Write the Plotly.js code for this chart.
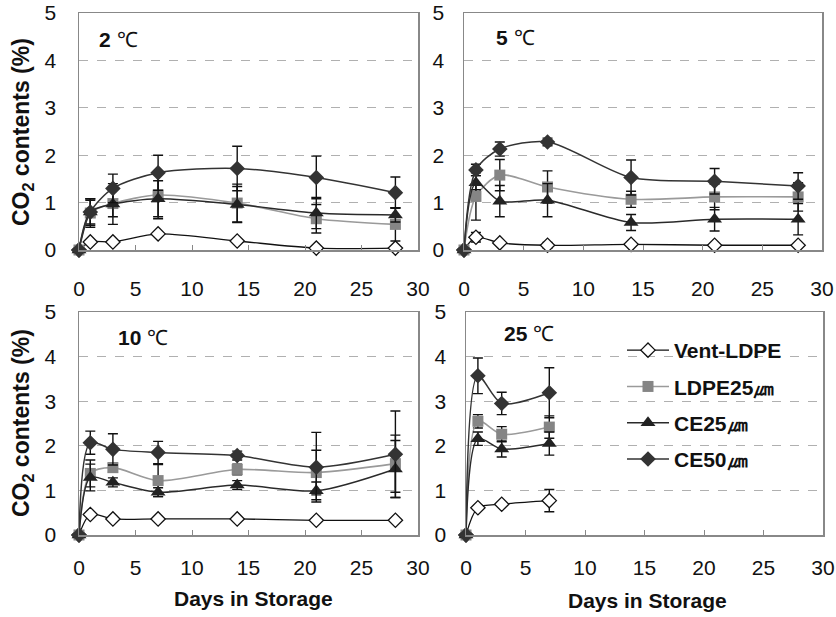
<!DOCTYPE html>
<html><head><meta charset="utf-8">
<script src="https://cdn.plot.ly/plotly-3.0.1.min.js"></script>
<style>html,body{margin:0;padding:0;background:#fff}#c{width:836px;height:617px}</style>
</head><body><div id="c"></div>
<script>
const days = [0, 1, 3, 7, 14, 21, 28];
const days25 = [0, 1, 3, 7];
const seriesNames = ["Vent-LDPE", "LDPE25㎛", "CE25㎛", "CE50㎛"];
const panelLabels = ["2", "5", "10", "25"];
const xTicks = [0, 5, 10, 15, 20, 25, 30];
const yTicks = [0, 1, 2, 3, 4, 5];

// 2 ℃
const vent2 = [0, 0.17, 0.17, 0.34, 0.19, 0.04, 0.04];
const ldpe2 = [0, 0.78, 0.98, 1.16, 0.99, 0.66, 0.54];
const ce25_2 = [0, 0.80, 0.97, 1.08, 0.96, 0.78, 0.74];
const ce50_2 = [0, 0.80, 1.30, 1.63, 1.72, 1.53, 1.21];
const ventErr2 = [0, 0.02, 0.02, 0.03, 0.02, 0.02, 0.02];
const ldpeErr2 = [0, 0.30, 0.28, 0.50, 0.40, 0.30, 0.35];
const ce25Err2 = [0, 0.25, 0.43, 0.38, 0.38, 0.33, 0.15];
const ce50Err2 = [0, 0.28, 0.30, 0.37, 0.47, 0.45, 0.33];

// 5 ℃
const vent5 = [0, 0.27, 0.15, 0.10, 0.12, 0.10, 0.10];
const ldpe5 = [0, 1.13, 1.58, 1.33, 1.07, 1.12, 1.12];
const ce25_5 = [0, 1.42, 1.03, 1.05, 0.58, 0.65, 0.65];
const ce50_5 = [0, 1.69, 2.13, 2.28, 1.53, 1.45, 1.35];
const ventErr5 = [0, 0.10, 0.03, 0.06, 0.03, 0.02, 0.02];
const ldpeErr5 = [0, 0.50, 0.33, 0.34, 0.17, 0.27, 0.30];
const ce25Err5 = [0, 0.15, 0.33, 0.35, 0.17, 0.25, 0.33];
const ce50Err5 = [0, 0.12, 0.15, 0.08, 0.37, 0.27, 0.28];

// 10 ℃
const vent10 = [0, 0.46, 0.36, 0.36, 0.36, 0.33, 0.33];
const ldpe10 = [0, 1.38, 1.51, 1.22, 1.47, 1.40, 1.60];
const ce25_10 = [0, 1.29, 1.18, 0.96, 1.12, 0.99, 1.48];
const ce50_10 = [0, 2.07, 1.92, 1.85, 1.78, 1.52, 1.81];
const ventErr10 = [0, 0.04, 0.02, 0.02, 0.02, 0.02, 0.02];
const ldpeErr10 = [0, 0.30, 0.10, 0.36, 0.12, 0.50, 0.64];
const ce25Err10 = [0, 0.30, 0.10, 0.10, 0.10, 0.20, 0.64];
const ce50Err10 = [0, 0.26, 0.35, 0.25, 0.10, 0.78, 0.97];

// 25 ℃
const vent25 = [0, 0.61, 0.69, 0.77];
const ldpe25 = [0, 2.55, 2.26, 2.42];
const ce25_25 = [0, 2.16, 1.93, 2.05];
const ce50_25 = [0, 3.57, 2.95, 3.19];
const ventErr25 = [0, 0.05, 0.03, 0.25];
const ldpeErr25 = [0, 0.15, 0.17, 0.25];
const ce25Err25 = [0, 0.15, 0.18, 0.26];
const ce50Err25 = [0, 0.40, 0.25, 0.56];

const W = 836, H = 617;
const px = v => v / W;
const py = v => 1 - v / H;
const FONT = "Liberation Sans, Arial, sans-serif";

const styles = [
  {marker: {symbol: "diamond", size: 11, color: "#ffffff", line: {color: "#111", width: 1.3}}, line: {color: "#111", width: 1.3}},
  {marker: {symbol: "square", size: 11, color: "#858585", line: {color: "#858585", width: 0}}, line: {color: "#9a9a9a", width: 1.6}},
  {marker: {symbol: "triangle-up", size: 13, color: "#222", line: {color: "#222", width: 0}}, line: {color: "#2a2a2a", width: 1.5}},
  {marker: {symbol: "diamond", size: 12, color: "#333", line: {color: "#333", width: 0}}, line: {color: "#333", width: 1.5}}
];

const panels = [
  {x: days, ys: [vent2, ldpe2, ce25_2, ce50_2], es: [ventErr2, ldpeErr2, ce25Err2, ce50Err2], xa: "x", ya: "y"},
  {x: days, ys: [vent5, ldpe5, ce25_5, ce50_5], es: [ventErr5, ldpeErr5, ce25Err5, ce50Err5], xa: "x2", ya: "y2"},
  {x: days, ys: [vent10, ldpe10, ce25_10, ce50_10], es: [ventErr10, ldpeErr10, ce25Err10, ce50Err10], xa: "x3", ya: "y3"},
  {x: days25, ys: [vent25, ldpe25, ce25_25, ce50_25], es: [ventErr25, ldpeErr25, ce25Err25, ce50Err25], xa: "x4", ya: "y4"}
];

const traces = [];
panels.forEach((p, pi) => {
  p.ys.forEach((y, si) => {
    traces.push({
      type: "scatter", mode: "lines+markers",
      x: p.x, y: y, xaxis: p.xa, yaxis: p.ya,
      name: seriesNames[si],
      legendgroup: "g" + si,
      showlegend: pi === 3,
      cliponaxis: false,
      line: Object.assign({shape: "spline", smoothing: 0.8}, styles[si].line),
      marker: styles[si].marker,
      error_y: {type: "data", array: p.es[si], visible: true, color: "#111", thickness: 1.4, width: 5}
    });
  });
});

const xBase = {
  range: [0, 30], tickvals: xTicks, ticks: "inside", ticklen: 5, tickcolor: "#888",
  showgrid: false, zeroline: false, showline: true, mirror: true, linecolor: "#888", linewidth: 1.5,
  tickfont: {family: FONT, size: 21, color: "#111"}, fixedrange: true
};
const yBase = {
  range: [0, 5], tickvals: yTicks, ticks: "outside", ticklen: 15, tickwidth: 0.01, tickcolor: "#ffffff",
  ticklabelstandoff: 2,
  showgrid: true, griddash: "dash", gridcolor: "#b0b0b0", gridwidth: 1,
  zeroline: false, showline: true, mirror: true, linecolor: "#888", linewidth: 1.5,
  tickfont: {family: FONT, size: 21, color: "#111"}, fixedrange: true
};

const topDom = [py(250), py(13)];
const botDom = [py(535), py(312)];

const layout = {
  width: W, height: H, margin: {l: 0, r: 0, t: 0, b: 0},
  paper_bgcolor: "#fff", plot_bgcolor: "#fff", showlegend: true,
  font: {family: FONT, color: "#111"},
  xaxis: Object.assign({}, xBase, {domain: [px(79), px(418)], anchor: "y", ticklabelstandoff: 19}),
  yaxis: Object.assign({}, yBase, {domain: topDom, anchor: "x"}),
  xaxis2: Object.assign({}, xBase, {domain: [px(464), px(822)], anchor: "y2", ticklabelstandoff: 19}),
  yaxis2: Object.assign({}, yBase, {domain: topDom, anchor: "x2", ticklen: 12}),
  xaxis3: Object.assign({}, xBase, {domain: [px(79), px(418)], anchor: "y3", ticklabelstandoff: 13}),
  yaxis3: Object.assign({}, yBase, {domain: botDom, anchor: "x3"}),
  xaxis4: Object.assign({}, xBase, {domain: [px(466), px(823)], anchor: "y4", ticklabelstandoff: 13}),
  yaxis4: Object.assign({}, yBase, {domain: botDom, anchor: "x4", ticklen: 12}),
  legend: {
    x: px(622), y: py(330), xanchor: "left", yanchor: "top",
    bgcolor: "rgba(0,0,0,0)", tracegroupgap: 6, itemwidth: 42,
    font: {family: FONT, size: 21, color: "#111", weight: "bold"}
  },
  annotations: [
    {text: "<b>" + panelLabels[0] + "</b> ℃", x: px(97), y: py(39)},
    {text: "<b>" + panelLabels[1] + "</b> ℃", x: px(494), y: py(37)},
    {text: "<b>" + panelLabels[2] + "</b> ℃", x: px(116), y: py(337)},
    {text: "<b>" + panelLabels[3] + "</b> ℃", x: px(502), y: py(333)},
  ].map(a => Object.assign(a, {xref: "paper", yref: "paper", xanchor: "left", yanchor: "middle", showarrow: false,
      font: {family: FONT, size: 21, color: "#111"}})).concat([
    {text: "<b>CO<sub>2</sub> contents (%)</b>", x: px(22), y: py(132), textangle: -90, size: 23},
    {text: "<b>CO<sub>2</sub> contents (%)</b>", x: px(22), y: py(423), textangle: -90, size: 23},
    {text: "<b>Days in Storage</b>", x: px(254), y: py(598), size: 21},
    {text: "<b>Days in Storage</b>", x: px(647), y: py(600), size: 21}
  ].map(a => {
    const s = a.size; delete a.size;
    return Object.assign(a, {xref: "paper", yref: "paper", xanchor: "center", yanchor: "middle", showarrow: false,
      font: {family: FONT, size: s, color: "#111"}});
  }))
};

Plotly.newPlot("c", traces, layout, {displayModeBar: false, staticPlot: true});
</script></body></html>
